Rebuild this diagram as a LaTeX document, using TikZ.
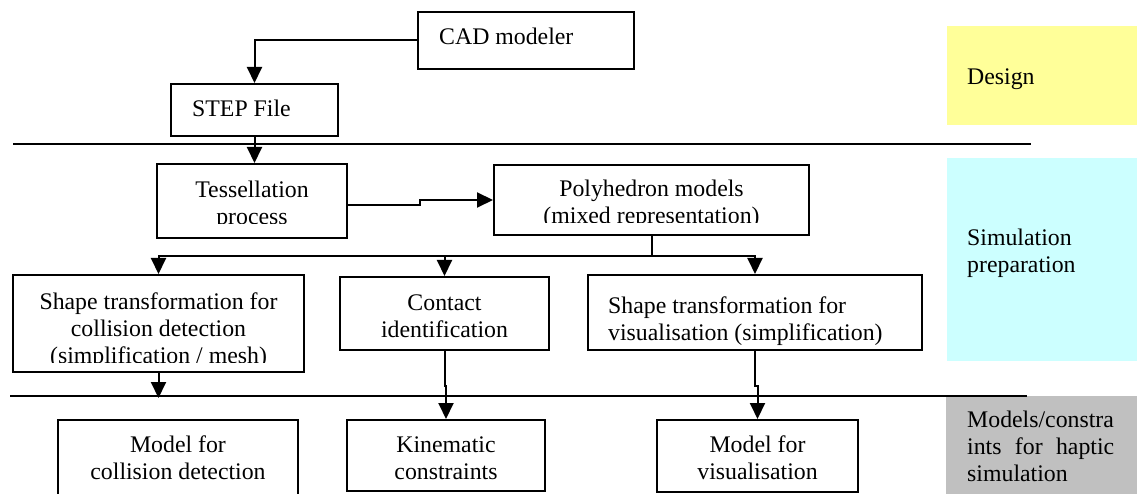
\documentclass[tikz,border=0pt]{standalone}
\usepackage{fontspec}
\setmainfont{Liberation Serif}
\usetikzlibrary{arrows.meta}
\definecolor{designY}{HTML}{FFFF99}
\definecolor{simC}{HTML}{CCFFFF}
\definecolor{hapG}{HTML}{C0C0C0}
\begin{document}
\begin{tikzpicture}[x=1pt,y=-1pt,
  box/.style={draw, line width=2pt, inner sep=0pt},
  txt/.style={inner sep=0pt, font=\fontsize{23.8pt}{27pt}\selectfont},
  ctxt/.style={txt, align=center, anchor=north},
  ltxt/.style={txt, align=left, anchor=north west},
  sepline/.style={line width=2.2pt},
  conn/.style={line width=2pt},
  arr/.style={conn, -{Triangle[length=16pt,width=15pt]}},
]
\useasboundingbox (0,0) rectangle (1137,494);

% coloured phase bands
\fill[designY] (947,26) rectangle (1137,125);
\fill[simC] (947,158) rectangle (1137,361);
\fill[hapG] (946,396) rectangle (1137,494);
\node[txt, anchor=base west] (designT) at (967,85) {Design};
\node[ltxt] (simT) at (967,226.1) {\strut Simulation\\preparation};
\node[ltxt] (hapT) at (967,408.1) {\strut Models/constra\\\makebox[147pt][s]{ints\hfill for\hfill haptic}\\simulation};

% separators
\draw[sepline] (13,144) -- (1031,144);
\draw[sepline] (10,396) -- (1027,396);

% boxes
\node[box, minimum width=216pt, minimum height=57pt] (cad) at (526,40.5) {};
\node[txt, anchor=base west] (cadT) at (439,45) {CAD modeler};

\node[box, minimum width=167pt, minimum height=52pt] (step) at (254.5,110) {};
\node[txt, anchor=base west] (stepT) at (192,117) {STEP File};

\node[box, minimum width=190pt, minimum height=74pt] (tess) at (252,201) {};
\begin{scope}
  \clip (157,164) rectangle (347,224);
  \node[ctxt] (tessT) at (252,178.1) {\strut Tessellation\\process};
\end{scope}

\node[box, minimum width=315pt, minimum height=70pt] (poly) at (651.5,200) {};
\begin{scope}
  \clip (494,165) rectangle (809,223);
  \node[ctxt] (polyT) at (651.5,177.1) {\strut Polyhedron models\\(mixed representation)};
\end{scope}

\node[box, minimum width=291pt, minimum height=97pt] (coll) at (158.5,323.5) {};
\begin{scope}
  \clip (13,275) rectangle (304,362);
  \node[ctxt] (collT) at (158.5,290.1) {\strut Shape transformation for\\collision detection\\(simplification / mesh)};
\end{scope}

\node[box, minimum width=209pt, minimum height=73pt] (contact) at (444.5,313.5) {};
\node[ctxt] (contactT) at (444.5,291.1) {\strut Contact\\identification};

\node[box, minimum width=334pt, minimum height=75pt] (vis) at (755,312.5) {};
\node[ltxt] (visT) at (608,294.1) {\strut Shape transformation for\\visualisation (simplification)};

\node[box, minimum width=240pt, minimum height=80pt] (mcoll) at (178,460) {};
\node[ctxt] (mcollT) at (178,433.1) {\strut Model for\\collision detection};

\node[box, minimum width=198pt, minimum height=71pt] (kin) at (446,455.5) {};
\node[ctxt] (kinT) at (446,433.1) {\strut Kinematic\\constraints};

\node[box, minimum width=201pt, minimum height=72pt] (mvis) at (757.5,456) {};
\node[ctxt] (mvisT) at (757.5,433.1) {\strut Model for\\visualisation};

% connectors
\draw[arr] (cad.west) -| (step.north);
\draw[arr] (step.south) -- (step.south |- tess.north);
\draw[arr] ([yshift=-4pt]tess.east) -- (420,205) -- (420,200) -- (poly.west);
\draw[conn] (poly.south) -- ++(0,20) coordinate (pb);
\draw[arr] (pb) -| (coll.north);
\draw[arr] (pb) -| (contact.north);
\draw[arr] (pb) -| (vis.north);
\coordinate (collEnd) at (158.5,398);
\draw[arr] (coll.south) -- (collEnd);
\draw[arr] (contact.south) -- ++(0,35) -| (kin.north);
\draw[arr] (vis.south) -- ++(0,35) -| (mvis.north);
\end{tikzpicture}
\end{document}
